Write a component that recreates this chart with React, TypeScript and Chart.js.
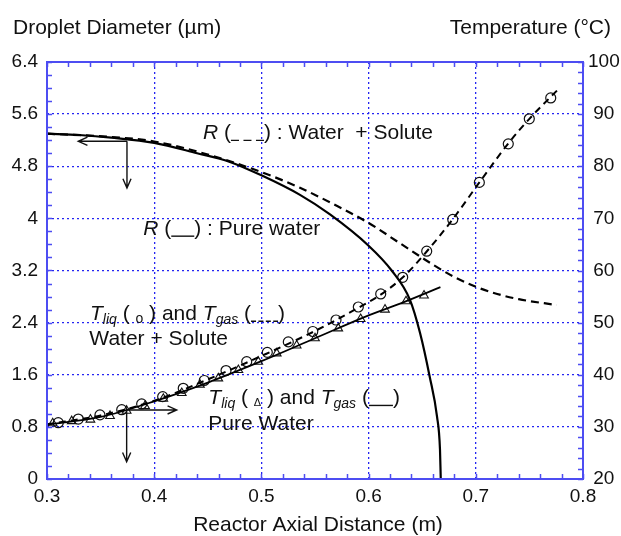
import React, { useEffect, useRef } from 'react';
import { Chart, registerables } from 'chart.js';

Chart.register(...registerables);

// ---------- axis ticks ----------
const xTicks = [0.3, 0.4, 0.5, 0.6, 0.7, 0.8];
const xTickLabels = ['0.3', '0.4', '0.5', '0.6', '0.7', '0.8'];
const diamTicks = [0, 0.8, 1.6, 2.4, 3.2, 4, 4.8, 5.6, 6.4];
const diamTickLabels = ['0', '0.8', '1.6', '2.4', '3.2', '4', '4.8', '5.6', '6.4'];
const tempTicks = [20, 30, 40, 50, 60, 70, 80, 90, 100];
const tempTickLabels = ['20', '30', '40', '50', '60', '70', '80', '90', '100'];

// ---------- droplet diameter R (left axis) ----------
const rPureX = [0.3, 0.33, 0.36, 0.4, 0.44, 0.47, 0.5, 0.536, 0.564, 0.6, 0.6215, 0.6386, 0.648, 0.657, 0.6638, 0.6666, 0.6673];
const rPureY = [5.3, 5.28, 5.24, 5.16, 5.0, 4.87, 4.66, 4.36, 4.06, 3.58, 3.2, 2.75, 2.24, 1.57, 0.96, 0.45, 0.0];

const rSoluteX = [0.3, 0.36, 0.4, 0.45, 0.5, 0.536, 0.567, 0.6, 0.63, 0.66, 0.68, 0.7, 0.72, 0.74, 0.7755];
const rSoluteY = [5.3, 5.25, 5.18, 4.98, 4.71, 4.47, 4.22, 3.93, 3.61, 3.29, 3.1, 2.95, 2.84, 2.76, 2.67];

// ---------- temperatures (right axis) ----------
const tGasSoluteX = [0.3, 0.35, 0.4, 0.45, 0.5, 0.55, 0.59, 0.61, 0.632, 0.654, 0.678, 0.703, 0.73, 0.75, 0.779];
const tGasSoluteY = [30.5, 32.2, 35.0, 39.1, 43.6, 48.4, 52.8, 55.2, 58.7, 63.6, 69.7, 76.8, 84.3, 89.1, 95.2];

const tGasPureX = [0.3, 0.35, 0.4, 0.45, 0.5, 0.55, 0.6, 0.63, 0.667];
const tGasPureY = [30.4, 31.9, 34.9, 38.5, 42.6, 47.0, 51.4, 53.7, 56.8];

const tLiqSoluteX = [0.3105, 0.3292, 0.3494, 0.3697, 0.3883, 0.4079, 0.4271, 0.4467, 0.467, 0.4863, 0.5055, 0.5251, 0.5479, 0.5696, 0.5904, 0.6113, 0.6318, 0.6542, 0.6785, 0.7033, 0.7303, 0.7499, 0.7699];
const tLiqSoluteY = [30.8, 31.5, 32.3, 33.3, 34.4, 35.8, 37.4, 38.9, 40.8, 42.5, 44.3, 46.3, 48.3, 50.5, 53.0, 55.5, 58.7, 63.7, 69.8, 76.9, 84.3, 89.1, 93.1];

const tLiqPureX = [0.3053, 0.323, 0.3405, 0.3588, 0.3743, 0.3914, 0.4085, 0.4257, 0.4427, 0.4598, 0.4785, 0.4971, 0.5143, 0.5329, 0.55, 0.5717, 0.5926, 0.6153, 0.6349, 0.6517];
const tLiqPureY = [30.7, 31.1, 31.4, 32.1, 33.1, 34.0, 35.4, 36.5, 38.1, 39.3, 40.9, 42.5, 44.1, 45.6, 47.0, 48.9, 50.7, 52.5, 54.1, 55.2];

const FONT = '"Liberation Sans", Arial, Helvetica, sans-serif';
const TEXT = '#111111';
const GRID_BLUE = '#2424f2';
const FRAME_BLUE = '#4d4df2';

const zip = (xs: number[], ys: number[]) => xs.map((x, i) => ({ x, y: ys[i] }));

type Seg = { t?: string; it?: boolean; sz?: number; dy?: number; line?: 'dash' | 'solid'; w?: number; pat?: number[] };

function rich(ctx: CanvasRenderingContext2D, x: number, y: number, segs: Seg[]) {
  let cx = x;
  ctx.textAlign = 'left';
  ctx.textBaseline = 'alphabetic';
  for (const s of segs) {
    if (s.line) {
      const w = s.w || 20;
      ctx.save();
      ctx.beginPath();
      ctx.lineWidth = 1.4;
      ctx.strokeStyle = TEXT;
      ctx.setLineDash(s.line === 'dash' ? (s.pat || [7, 5]) : []);
      ctx.moveTo(cx, y + 1.5);
      ctx.lineTo(cx + w, y + 1.5);
      ctx.stroke();
      ctx.restore();
      cx += w;
      continue;
    }
    ctx.font = `${s.it ? 'italic ' : ''}${s.sz || 21}px ${FONT}`;
    ctx.fillStyle = TEXT;
    ctx.fillText(s.t || '', cx, y + (s.dy || 0));
    cx += ctx.measureText(s.t || '').width;
  }
}

function arrow(ctx: CanvasRenderingContext2D, x0: number, y0: number, x1: number, y1: number) {
  const ang = Math.atan2(y1 - y0, x1 - x0);
  const L = 10;
  const W = 0.42;
  ctx.beginPath();
  ctx.moveTo(x0, y0);
  ctx.lineTo(x1, y1);
  ctx.moveTo(x1 - L * Math.cos(ang - W), y1 - L * Math.sin(ang - W));
  ctx.lineTo(x1, y1);
  ctx.lineTo(x1 - L * Math.cos(ang + W), y1 - L * Math.sin(ang + W));
  ctx.stroke();
}

const decorPlugin = {
  id: 'decor',
  afterDraw(chart: any) {
    const { ctx, chartArea: a, scales } = chart;
    const sx = scales.x;
    const sy = scales.y;
    const sy2 = scales.y2;
    ctx.save();

    // frame
    ctx.strokeStyle = FRAME_BLUE;
    ctx.lineWidth = 2;
    ctx.setLineDash([]);
    ctx.strokeRect(a.left, a.top, a.right - a.left, a.bottom - a.top);

    // inward minor ticks
    ctx.lineWidth = 1.5;
    ctx.beginPath();
    const tl = 5;
    for (let v = sx.min; v <= sx.max + 1e-9; v += 0.02) {
      const p = Math.round(sx.getPixelForValue(v)) + 0.5;
      ctx.moveTo(p, a.bottom);
      ctx.lineTo(p, a.bottom - tl);
      ctx.moveTo(p, a.top);
      ctx.lineTo(p, a.top + tl);
    }
    for (let v = sy.min; v <= sy.max + 1e-9; v += 0.2) {
      const p = Math.round(sy.getPixelForValue(v)) + 0.5;
      ctx.moveTo(a.left, p);
      ctx.lineTo(a.left + tl, p);
    }
    for (let v = sy2.min; v <= sy2.max + 1e-9; v += 2) {
      const p = Math.round(sy2.getPixelForValue(v)) + 0.5;
      ctx.moveTo(a.right, p);
      ctx.lineTo(a.right - tl, p);
    }
    ctx.stroke();

    // axis titles
    ctx.fillStyle = TEXT;
    ctx.font = `21px ${FONT}`;
    ctx.textBaseline = 'alphabetic';
    ctx.textAlign = 'left';
    ctx.fillText('Droplet Diameter (µm)', 13, 34);
    ctx.textAlign = 'right';
    ctx.fillText('Temperature (°C)', 611, 34);
    ctx.textAlign = 'center';
    ctx.fillText('Reactor Axial Distance (m)', 318, 531);

    const X = (v: number) => sx.getPixelForValue(v);
    const Y = (v: number) => sy.getPixelForValue(v);

    // annotations
    rich(ctx, X(0.4455), Y(5.22), [
      { t: 'R', it: true }, { t: ' (' }, { line: 'dash', w: 33, pat: [8, 4.5] }, { t: ') : Water  + Solute' },
    ]);
    rich(ctx, X(0.3898), Y(3.75), [
      { t: 'R', it: true }, { t: ' (' }, { line: 'solid', w: 23 }, { t: ') : Pure water' },
    ]);
    rich(ctx, X(0.3401), Y(2.443), [
      { t: 'T', it: true }, { t: 'liq', it: true, sz: 14, dy: 4 }, { t: ' ( ' }, { t: 'o', sz: 14, dy: 3 }, { t: ' ) and ' },
      { t: 'T', it: true }, { t: 'gas', it: true, sz: 14, dy: 4 }, { t: ' (' }, { line: 'dash', w: 27, pat: [5, 2.4] }, { t: ')' },
    ]);
    rich(ctx, X(0.3395), Y(2.06), [{ t: 'Water + Solute' }]);
    rich(ctx, X(0.4505), Y(1.152), [
      { t: 'T', it: true }, { t: 'liq', it: true, sz: 14, dy: 4 }, { t: ' ( ' }, { t: '\u0394', sz: 11, dy: 2 }, { t: ' ) and ' },
      { t: 'T', it: true }, { t: 'gas', it: true, sz: 14, dy: 4 }, { t: ' (' }, { line: 'solid', w: 24 }, { t: ')' },
    ]);
    rich(ctx, X(0.4505), Y(0.753), [{ t: 'Pure Water' }]);

    // arrows
    ctx.strokeStyle = '#111';
    ctx.lineWidth = 1.4;
    arrow(ctx, X(0.3746), Y(5.183), X(0.3292), Y(5.183));
    arrow(ctx, X(0.3746), Y(5.183), X(0.3746), Y(4.467));
    arrow(ctx, X(0.3743), Y(1.06), X(0.421), Y(1.06));
    arrow(ctx, X(0.3743), Y(1.06), X(0.3743), Y(0.266));

    ctx.restore();
  },
};

export default function App() {
  const ref = useRef<HTMLCanvasElement | null>(null);

  useEffect(() => {
    document.body.style.margin = '0';
    const canvas = ref.current;
    if (!canvas) return;
    const tickFont = { family: FONT, size: 19 };
    const chart = new Chart(canvas, {
      type: 'scatter',
      data: {
        datasets: [
          {
            label: 'R pure water',
            data: zip(rPureX, rPureY),
            yAxisID: 'y',
            showLine: true,
            borderColor: '#000',
            borderWidth: 2.2,
            pointRadius: 0,
            cubicInterpolationMode: 'monotone',
          },
          {
            label: 'R water + solute',
            data: zip(rSoluteX, rSoluteY),
            yAxisID: 'y',
            showLine: true,
            borderColor: '#000',
            borderWidth: 2.2,
            borderDash: [8, 5],
            pointRadius: 0,
            cubicInterpolationMode: 'monotone',
          },
          {
            label: 'Tgas water + solute',
            data: zip(tGasSoluteX, tGasSoluteY),
            yAxisID: 'y2',
            showLine: true,
            borderColor: '#000',
            borderWidth: 2,
            borderDash: [7, 5],
            pointRadius: 0,
            cubicInterpolationMode: 'monotone',
          },
          {
            label: 'Tgas pure water',
            data: zip(tGasPureX, tGasPureY),
            yAxisID: 'y2',
            showLine: true,
            borderColor: '#000',
            borderWidth: 1.8,
            pointRadius: 0,
            cubicInterpolationMode: 'monotone',
          },
          {
            label: 'Tliq water + solute',
            data: zip(tLiqSoluteX, tLiqSoluteY),
            yAxisID: 'y2',
            showLine: false,
            pointStyle: 'circle',
            pointRadius: 5,
            pointBorderWidth: 1.2,
            pointBorderColor: '#111',
            pointBackgroundColor: 'rgba(0,0,0,0)',
          },
          {
            label: 'Tliq pure water',
            data: zip(tLiqPureX, tLiqPureY),
            yAxisID: 'y2',
            showLine: false,
            pointStyle: 'triangle',
            pointRadius: 5,
            pointBorderWidth: 1.1,
            pointBorderColor: '#111',
            pointBackgroundColor: 'rgba(0,0,0,0)',
          },
        ],
      },
      options: {
        animation: false,
        responsive: false,
        devicePixelRatio: 1,
        layout: { padding: { top: 62, left: 0, right: 0, bottom: 0 } },
        plugins: { legend: { display: false }, tooltip: { enabled: false } },
        scales: {
          x: {
            type: 'linear',
            min: 0.3,
            max: 0.8,
            afterBuildTicks: (s: any) => { s.ticks = xTicks.map((v) => ({ value: v })); },
            afterFit: (s: any) => { s.height = 57; },
            ticks: {
              callback: (_v: any, i: number) => xTickLabels[i],
              font: tickFont,
              color: TEXT,
              padding: 6,
              maxRotation: 0,
              autoSkip: false,
            },
            grid: { color: GRID_BLUE, lineWidth: 1.3, drawTicks: false },
            border: { display: false, dash: [2, 3] },
          },
          y: {
            type: 'linear',
            position: 'left',
            min: 0,
            max: 6.4,
            afterBuildTicks: (s: any) => { s.ticks = diamTicks.map((v) => ({ value: v })); },
            afterFit: (s: any) => { s.width = 47; },
            ticks: {
              callback: (_v: any, i: number) => diamTickLabels[i],
              font: tickFont,
              color: TEXT,
              padding: 9,
              autoSkip: false,
            },
            grid: { color: GRID_BLUE, lineWidth: 1.3, drawTicks: false },
            border: { display: false, dash: [2, 3] },
          },
          y2: {
            type: 'linear',
            position: 'right',
            min: 20,
            max: 100,
            afterBuildTicks: (s: any) => { s.ticks = tempTicks.map((v) => ({ value: v })); },
            afterFit: (s: any) => { s.width = 38; },
            ticks: {
              callback: (_v: any, i: number) => tempTickLabels[i],
              font: tickFont,
              color: TEXT,
              padding: 5,
              crossAlign: 'center',
              autoSkip: false,
            },
            grid: { display: false, drawTicks: false },
            border: { display: false },
          },
        },
      },
      plugins: [decorPlugin],
    } as any);
    return () => chart.destroy();
  }, []);

  return (
    <canvas
      ref={ref}
      width={621}
      height={536}
      style={{ display: 'block', width: '621px', height: '536px' }}
    />
  );
}
